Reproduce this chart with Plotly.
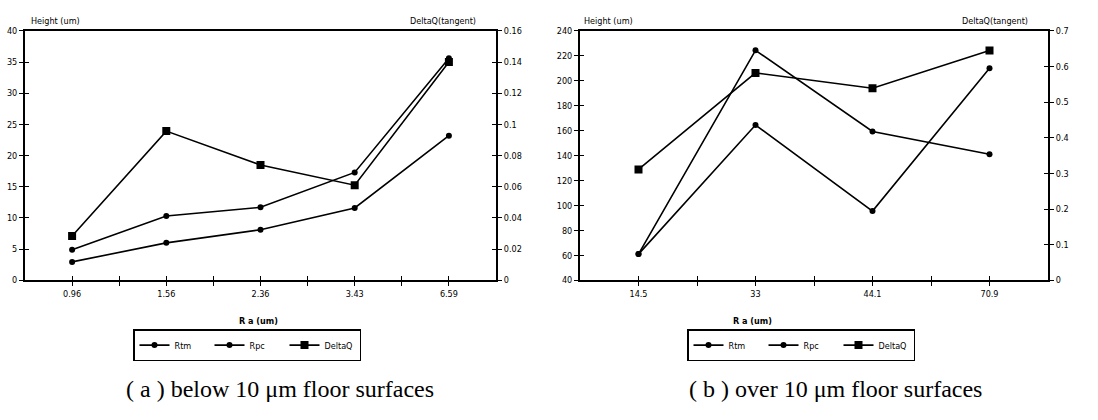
import plotly.graph_objects as go

# ---------------- data ----------------
cats_a = ["0.96", "1.56", "2.36", "3.43", "6.59"]
rtm_a = [4.9, 10.3, 11.7, 17.3, 35.6]
rpc_a = [2.95, 6.0, 8.1, 11.6, 23.2]
dq_a = [0.0284, 0.0957, 0.074, 0.061, 0.140]

cats_b = ["14.5", "33", "44.1", "70.9"]
rtm_b = [61, 164.5, 95.5, 210]
rpc_b = [61, 224.4, 159.3, 141]
dq_b = [0.311, 0.582, 0.539, 0.645]

W, H = 1098, 420
FONT = "Liberation Sans Narrow, DejaVu Sans Condensed, Arial Narrow, Liberation Sans, sans-serif"

def px(x):
    return x / W

def py(y):
    return 1 - y / H

fig = go.Figure()

line = dict(color="black", width=1.6)

def add_series(xs, ys, name, xa, ya, sym, size, legend):
    fig.add_trace(go.Scatter(
        x=list(range(len(xs))), y=ys, name=name, mode="lines+markers",
        line=line, marker=dict(symbol=sym, size=size, color="black"),
        xaxis=xa, yaxis=ya, legend=legend))

add_series(cats_a, rtm_a, "Rtm", "x", "y", "circle", 6, "legend")
add_series(cats_a, rpc_a, "Rpc", "x", "y", "circle", 6, "legend")
add_series(cats_a, dq_a, "DeltaQ", "x", "y2", "square", 8, "legend")

add_series(cats_b, rtm_b, "Rtm", "x2", "y3", "circle", 6, "legend2")
add_series(cats_b, rpc_b, "Rpc", "x2", "y3", "circle", 6, "legend2")
add_series(cats_b, dq_b, "DeltaQ", "x2", "y4", "square", 8, "legend2")

# dummy traces so the overlay (inside-tick) axes are drawn
for xa, ya in [("x3", "y5"), ("x3", "y6"), ("x4", "y7"), ("x4", "y8")]:
    fig.add_trace(go.Scatter(x=[None], y=[None], xaxis=xa, yaxis=ya,
                             showlegend=False, hoverinfo="skip"))

tickfont = dict(family=FONT, size=9, color="black")
YDOM = [py(282), py(26.5)]

def xaxis_cfg(cats, dom, inside=False, overlaying=None):
    n = len(cats)
    vals, txt = [], []
    for i in range(n):
        vals.append(i)
        txt.append(cats[i])
        if i < n - 1:
            vals.append(i + 0.5)
            txt.append("")
    d = dict(domain=dom, range=[-0.5, n - 0.5], tickmode="array",
             tickvals=vals, ticktext=txt, ticks="inside" if inside else "outside",
             ticklen=4, tickwidth=1.2, tickcolor="black",
             showline=not inside, linecolor="black", linewidth=2,
             mirror=not inside, showgrid=False, zeroline=False,
             tickfont=tickfont, showticklabels=not inside, fixedrange=True)
    if overlaying:
        d["overlaying"] = overlaying
    return d

def yaxis_cfg(rng, dtick, anchor, side="left", overlaying=None, inside=False):
    d = dict(range=rng, dtick=dtick, tick0=rng[0],
             ticks="inside" if inside else "outside", ticklen=4,
             tickwidth=1.2, tickcolor="black", showline=not inside,
             linecolor="black", linewidth=2, showgrid=False, zeroline=False,
             tickfont=tickfont, anchor=anchor, side=side, domain=YDOM,
             showticklabels=not inside, fixedrange=True)
    if overlaying:
        d["overlaying"] = overlaying
    return d

fig.update_layout(
    width=W, height=H,
    margin=dict(l=0, r=0, t=0, b=0),
    paper_bgcolor="white", plot_bgcolor="white",
    xaxis=xaxis_cfg(cats_a, [px(25), px(496)]),
    yaxis=yaxis_cfg([0, 40], 5, "x"),
    yaxis2=yaxis_cfg([0, 0.16], 0.02, "x", side="right", overlaying="y"),
    xaxis2=xaxis_cfg(cats_b, [px(580), px(1048)]),
    yaxis3=yaxis_cfg([40, 240], 20, "x2"),
    yaxis4=yaxis_cfg([0, 0.7], 0.1, "x2", side="right", overlaying="y3"),
    # inside-tick overlays (ticks that cross the axis lines)
    xaxis3=xaxis_cfg(cats_a, [px(25), px(496)], inside=True, overlaying="x"),
    yaxis5=yaxis_cfg([0, 40], 5, "x3", overlaying="y", inside=True),
    yaxis6=yaxis_cfg([0, 0.16], 0.02, "x3", side="right", overlaying="y", inside=True),
    xaxis4=xaxis_cfg(cats_b, [px(580), px(1048)], inside=True, overlaying="x2"),
    yaxis7=yaxis_cfg([40, 240], 20, "x4", overlaying="y3", inside=True),
    yaxis8=yaxis_cfg([0, 0.7], 0.1, "x4", side="right", overlaying="y3", inside=True),
    legend=dict(orientation="h", x=px(133), y=py(332), xanchor="left", yanchor="top",
                bordercolor="black", borderwidth=1.5, bgcolor="white",
                font=dict(family=FONT, size=9, color="black"), entrywidth=30,
                tracegroupgap=0, itemwidth=30),
    legend2=dict(orientation="h", x=px(687), y=py(332), xanchor="left", yanchor="top",
                 bordercolor="black", borderwidth=1.5, bgcolor="white",
                 font=dict(family=FONT, size=9, color="black"), entrywidth=30,
                 tracegroupgap=0, itemwidth=30),
    showlegend=True,
)
fig.update_layout(xaxis3=dict(anchor="y5"), xaxis4=dict(anchor="y7"))

small = dict(family=FONT, size=9, color="black")
ann = [
    dict(text="Height (um)", x=px(29), y=py(16), xanchor="left"),
    dict(text="DeltaQ(tangent)", x=px(478), y=py(16), xanchor="right"),
    dict(text="Height (um)", x=px(582), y=py(16), xanchor="left"),
    dict(text="DeltaQ(tangent)", x=px(1030), y=py(16), xanchor="right"),
    dict(text="<b>R a (um)</b>", x=px(258), y=py(324), xanchor="center"),
    dict(text="<b>R a (um)</b>", x=px(752), y=py(324), xanchor="center"),
]
for a in ann:
    fig.add_annotation(xref="paper", yref="paper", showarrow=False, yanchor="middle",
                       font=small, **a)

cap = dict(family="Liberation Serif, Times New Roman, serif", size=24, color="black")
fig.add_annotation(text="( a ) below 10 μm floor surfaces", x=px(280), y=py(393),
                   xref="paper", yref="paper", showarrow=False, font=cap,
                   xanchor="center", yanchor="middle")
fig.add_annotation(text="( b ) over 10 μm floor surfaces", x=px(835), y=py(393),
                   xref="paper", yref="paper", showarrow=False, font=cap,
                   xanchor="center", yanchor="middle")

fig.write_html("out.html")
